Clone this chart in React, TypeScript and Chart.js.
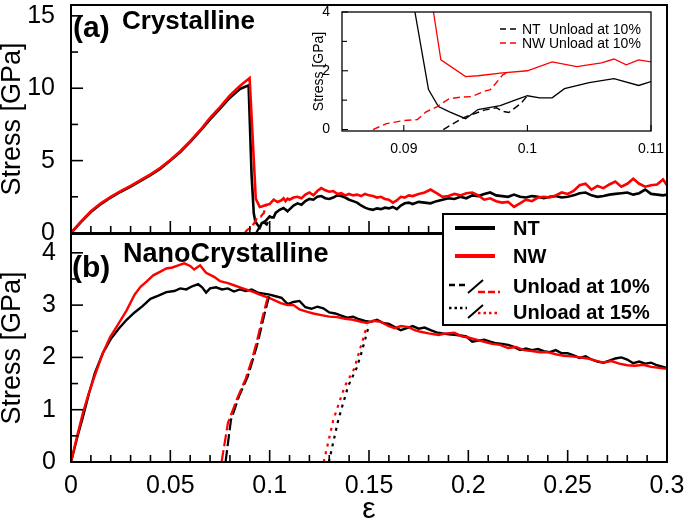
import React, { useEffect, useRef } from 'react';
import { Chart, registerables } from 'chart.js';

Chart.register(...registerables);
Chart.defaults.font.family = "'Liberation Sans', Arial, sans-serif";
Chart.defaults.color = '#000';

type P = [number, number];

// ---------- (a) Crystalline : strain, stress [GPa] ----------
const crystNT: P[] = [
  [0, 0], [0.005, 0.75], [0.01, 1.45], [0.015, 2.0], [0.02, 2.45], [0.025, 2.85], [0.03, 3.2],
  [0.035, 3.6], [0.04, 4.0], [0.045, 4.45], [0.05, 5.0], [0.055, 5.6], [0.06, 6.3], [0.065, 7.05],
  [0.07, 7.85], [0.075, 8.6], [0.08, 9.35], [0.085, 9.95], [0.0894, 10.2], [0.0909, 4.0],
  [0.092, 1.36], [0.0928, 0.78], [0.0937, 0.6], [0.095, 0.37], [0.096, 0.68], [0.0978, 0.81],
  [0.099, 1.0], [0.1, 1.15], [0.101, 1.08], [0.102, 1.08], [0.103, 1.39], [0.105, 1.6],
  [0.107, 1.73], [0.109, 1.5], [0.11, 1.63], [0.112, 1.9], [0.114, 2.05], [0.116, 1.95],
  [0.118, 2.2], [0.12, 2.35], [0.122, 2.3], [0.124, 2.5], [0.126, 2.55], [0.128, 2.4],
  [0.13, 2.35], [0.132, 2.45], [0.134, 2.6], [0.136, 2.55], [0.138, 2.45], [0.14, 2.3],
  [0.142, 2.2], [0.144, 2.1], [0.146, 1.9], [0.148, 1.75], [0.15, 1.65], [0.152, 1.6],
  [0.154, 1.7], [0.156, 1.65], [0.158, 1.75], [0.16, 1.7], [0.162, 1.8], [0.164, 1.65],
  [0.166, 1.9], [0.168, 2.05], [0.17, 2.1], [0.172, 2.0], [0.175, 2.15], [0.178, 2.1],
  [0.181, 2.05], [0.184, 2.2], [0.187, 2.3], [0.19, 2.4], [0.193, 2.35], [0.196, 2.5],
  [0.199, 2.4], [0.202, 2.6], [0.205, 2.55], [0.208, 2.7], [0.211, 2.8], [0.214, 2.6],
  [0.217, 2.55], [0.22, 2.5], [0.223, 2.65], [0.226, 2.5], [0.229, 2.45], [0.232, 2.55],
  [0.235, 2.5], [0.238, 2.4], [0.241, 2.5], [0.244, 2.55], [0.247, 2.45], [0.25, 2.5],
  [0.253, 2.6], [0.256, 2.75], [0.259, 2.8], [0.262, 2.6], [0.265, 2.5], [0.268, 2.55],
  [0.271, 2.65], [0.274, 2.7], [0.277, 2.75], [0.28, 2.8], [0.283, 2.65], [0.286, 2.75],
  [0.289, 3.0], [0.292, 2.7], [0.295, 2.65], [0.298, 2.6], [0.3, 2.65],
];

const crystNW: P[] = [
  [0, 0], [0.005, 0.78], [0.01, 1.5], [0.015, 2.05], [0.02, 2.5], [0.025, 2.9], [0.03, 3.25],
  [0.035, 3.65], [0.04, 4.05], [0.045, 4.5], [0.05, 5.05], [0.055, 5.65], [0.06, 6.35], [0.065, 7.1],
  [0.07, 7.95], [0.075, 8.7], [0.08, 9.5], [0.085, 10.15], [0.0899, 10.7], [0.0924, 4.0],
  [0.093, 2.37], [0.095, 1.8], [0.096, 1.83], [0.098, 1.93], [0.1, 2.0], [0.102, 2.3],
  [0.104, 2.14], [0.106, 2.27], [0.107, 2.4], [0.108, 2.2], [0.109, 2.37], [0.11, 2.3],
  [0.112, 2.45], [0.114, 2.5], [0.116, 2.4], [0.118, 2.65], [0.12, 2.8], [0.122, 2.6],
  [0.124, 2.9], [0.126, 3.1], [0.128, 2.95], [0.13, 2.85], [0.132, 2.9], [0.134, 2.7],
  [0.136, 2.75], [0.138, 2.6], [0.14, 2.7], [0.142, 2.6], [0.144, 2.65], [0.146, 2.55],
  [0.148, 2.7], [0.15, 2.6], [0.152, 2.55], [0.154, 2.45], [0.156, 2.5], [0.158, 2.35],
  [0.16, 2.3], [0.162, 2.1], [0.164, 2.25], [0.166, 2.5], [0.168, 2.45], [0.17, 2.6],
  [0.172, 2.55], [0.175, 2.7], [0.178, 2.8], [0.181, 3.0], [0.184, 2.75], [0.187, 2.5],
  [0.19, 2.55], [0.193, 2.7], [0.196, 2.6], [0.199, 2.75], [0.202, 2.8], [0.205, 2.6],
  [0.208, 2.3], [0.211, 2.4], [0.214, 2.2], [0.217, 2.1], [0.22, 2.15], [0.223, 1.8],
  [0.226, 2.05], [0.229, 2.3], [0.232, 2.2], [0.235, 2.45], [0.238, 2.5], [0.241, 2.45],
  [0.244, 2.6], [0.247, 2.8], [0.25, 2.7], [0.253, 2.9], [0.256, 3.3], [0.259, 3.4],
  [0.262, 3.0], [0.265, 3.25], [0.268, 3.1], [0.271, 3.35], [0.274, 3.55], [0.277, 3.2],
  [0.28, 3.4], [0.283, 3.75], [0.286, 3.4], [0.289, 3.2], [0.292, 3.3], [0.295, 3.35],
  [0.298, 3.7], [0.3, 3.3],
];

const crystNTUnload10: P[] = [
  [0.0932, 0], [0.0948, 0.4], [0.0965, 0.66], [0.0975, 0.74], [0.098, 0.62], [0.0985, 0.58],
  [0.0995, 0.9], [0.1, 1.15],
];

const crystNWUnload10: P[] = [
  [0.0875, 0], [0.0886, 0.2], [0.0899, 0.3], [0.0911, 0.34], [0.0918, 0.6], [0.0927, 0.78],
  [0.0933, 0.95], [0.0937, 1.05], [0.0946, 1.1], [0.0955, 1.12], [0.0965, 1.3], [0.097, 1.36],
  [0.0975, 1.6], [0.098, 1.86], [0.0985, 1.97],
];

// ---------- (b) NanoCrystalline ----------
const nanoNT: P[] = [
  [0, 0], [0.003, 0.45], [0.006, 0.86], [0.009, 1.3], [0.012, 1.7], [0.016, 2.08], [0.02, 2.35],
  [0.024, 2.55], [0.028, 2.72], [0.032, 2.86], [0.036, 2.98], [0.04, 3.12], [0.044, 3.18],
  [0.048, 3.25], [0.052, 3.27], [0.055, 3.32], [0.058, 3.3], [0.061, 3.36], [0.064, 3.4],
  [0.066, 3.34], [0.068, 3.24], [0.07, 3.32], [0.073, 3.34], [0.076, 3.3], [0.079, 3.32],
  [0.082, 3.26], [0.085, 3.3], [0.088, 3.27], [0.091, 3.3], [0.094, 3.24], [0.097, 3.22],
  [0.1, 3.2], [0.103, 3.17], [0.106, 3.14], [0.109, 3.02], [0.112, 3.06], [0.115, 3.08],
  [0.118, 2.96], [0.121, 2.93], [0.124, 2.97], [0.127, 2.94], [0.13, 2.86], [0.133, 2.84],
  [0.136, 2.8], [0.139, 2.76], [0.142, 2.78], [0.145, 2.73], [0.148, 2.7], [0.151, 2.68],
  [0.154, 2.72], [0.157, 2.66], [0.16, 2.64], [0.163, 2.58], [0.166, 2.52], [0.169, 2.56],
  [0.172, 2.6], [0.175, 2.55], [0.178, 2.57], [0.181, 2.52], [0.184, 2.48], [0.187, 2.46],
  [0.19, 2.44], [0.193, 2.43], [0.196, 2.42], [0.199, 2.4], [0.202, 2.3], [0.205, 2.32],
  [0.208, 2.34], [0.211, 2.3], [0.214, 2.27], [0.217, 2.26], [0.22, 2.24], [0.223, 2.2],
  [0.226, 2.14], [0.229, 2.17], [0.232, 2.14], [0.235, 2.16], [0.238, 2.12], [0.241, 2.1],
  [0.244, 2.14], [0.247, 2.08], [0.25, 2.08], [0.253, 2.04], [0.256, 1.99], [0.259, 2.02],
  [0.262, 1.96], [0.265, 1.92], [0.268, 1.9], [0.271, 1.94], [0.274, 1.98], [0.277, 2.0],
  [0.28, 1.96], [0.283, 1.89], [0.286, 1.92], [0.289, 1.88], [0.292, 1.9], [0.295, 1.85],
  [0.298, 1.82], [0.3, 1.8],
];

const nanoNW: P[] = [
  [0, 0], [0.003, 0.48], [0.006, 0.94], [0.009, 1.32], [0.013, 1.76], [0.016, 2.08], [0.0197, 2.39],
  [0.024, 2.65], [0.028, 2.9], [0.032, 3.2], [0.035, 3.35], [0.038, 3.45], [0.0414, 3.57],
  [0.045, 3.64], [0.048, 3.7], [0.051, 3.72], [0.054, 3.76], [0.057, 3.8], [0.06, 3.75],
  [0.062, 3.68], [0.065, 3.76], [0.068, 3.62], [0.072, 3.54], [0.075, 3.46], [0.079, 3.42],
  [0.082, 3.38], [0.085, 3.34], [0.088, 3.3], [0.092, 3.25], [0.095, 3.2], [0.099, 3.15],
  [0.102, 3.1], [0.1056, 3.04], [0.109, 3.0], [0.112, 3.0], [0.115, 2.92], [0.119, 2.87],
  [0.122, 2.84], [0.126, 2.81], [0.13, 2.78], [0.134, 2.77], [0.138, 2.74], [0.142, 2.72],
  [0.146, 2.68], [0.149, 2.66], [0.152, 2.7], [0.156, 2.68], [0.16, 2.6], [0.163, 2.56],
  [0.166, 2.6], [0.17, 2.58], [0.173, 2.52], [0.176, 2.49], [0.18, 2.46], [0.185, 2.43],
  [0.189, 2.46], [0.193, 2.47], [0.197, 2.4], [0.2, 2.38], [0.204, 2.34], [0.208, 2.3],
  [0.212, 2.26], [0.216, 2.24], [0.22, 2.18], [0.224, 2.2], [0.228, 2.14], [0.232, 2.12],
  [0.236, 2.1], [0.24, 2.1], [0.244, 2.06], [0.248, 2.03], [0.252, 2.02], [0.256, 2.0],
  [0.26, 1.98], [0.264, 1.94], [0.268, 1.9], [0.272, 1.93], [0.276, 1.88], [0.28, 1.85],
  [0.284, 1.84], [0.288, 1.86], [0.292, 1.82], [0.296, 1.8], [0.3, 1.78],
];

const nanoNTUnload10: P[] = [
  [0.0778, 0], [0.0805, 0.8], [0.0845, 1.25], [0.0889, 1.63], [0.0915, 1.95], [0.094, 2.28],
  [0.097, 2.77], [0.0995, 3.14], [0.1, 3.2],
];
const nanoNWUnload10: P[] = [
  [0.0758, 0], [0.079, 0.75], [0.0835, 1.2], [0.088, 1.6], [0.091, 1.95], [0.0935, 2.3],
  [0.0965, 2.78], [0.099, 3.15], [0.0995, 3.22],
];
const nanoNTUnload15: P[] = [
  [0.1298, 0], [0.1345, 0.8], [0.1395, 1.45], [0.1438, 1.8], [0.1463, 2.1], [0.1488, 2.45],
  [0.15, 2.62],
];
const nanoNWUnload15: P[] = [
  [0.1272, 0], [0.132, 0.8], [0.1378, 1.45], [0.1425, 1.78], [0.145, 2.1], [0.1478, 2.45],
  [0.149, 2.62],
];

// ---------- axes ----------
const X_RANGE = [0, 0.3];
const A_Y_RANGE = [0, 15.75];
const B_Y_RANGE = [0, 4.36];
const INSET_X_RANGE = [0.085, 0.11];
const INSET_Y_RANGE = [-0.05, 4];

const xMajorTicks = [0, 0.05, 0.1, 0.15, 0.2, 0.25, 0.3];
const aYMajorTicks = [0, 5, 10, 15];
const aYMinorTicks = [2.5, 7.5, 12.5];
const bYMajorTicks = [0, 1, 2, 3, 4];
const bYMinorTicks = [0.5, 1.5, 2.5, 3.5];
const insetXMajorTicks = [0.09, 0.1, 0.11];
const insetYMajorTicks = [0, 2, 4];
const insetYMinorTicks = [1, 3];

const xMinorTicks: number[] = [];
for (let i = 1; i < 30; i++) if (i % 5 !== 0) xMinorTicks.push(i / 100);

const BLACK = '#000000';
const RED = '#ff0000';

const fmt = (v: number) => String(+Number(v).toFixed(4));

const framePlugin = {
  id: 'frame',
  afterDatasetsDraw(chart: any, _args: any, opts: any) {
    const { ctx, chartArea: a } = chart;
    ctx.save();
    ctx.strokeStyle = '#000';
    ctx.lineWidth = opts.tickWidth;
    for (const t of opts.ticks || []) {
      const s = chart.scales[t.axis];
      const draw = (vals: number[], len: number) => {
        for (const v of vals) {
          const p = s.getPixelForValue(v);
          ctx.beginPath();
          if (s.isHorizontal()) {
            ctx.moveTo(p, a.bottom);
            ctx.lineTo(p, a.bottom - len);
          } else {
            ctx.moveTo(a.left, p);
            ctx.lineTo(a.left + len, p);
          }
          ctx.stroke();
        }
      };
      draw(t.major || [], t.majorLen);
      draw(t.minor || [], t.minorLen);
    }
    ctx.lineWidth = opts.lineWidth;
    ctx.strokeRect(a.left, a.top, a.right - a.left, a.bottom - a.top);
    ctx.restore();
  },
};

function ds(data: P[], color: string, width: number, dash: number[], order: number) {
  return {
    data: data.map(([x, y]) => ({ x, y })),
    borderColor: color,
    backgroundColor: color,
    borderWidth: width,
    borderDash: dash,
    pointRadius: 0,
    tension: 0,
    fill: false,
    order,
  };
}

function fixWidth(w: number) {
  return (s: any) => {
    s.width = w;
    s.paddingTop = 0;
    s.paddingBottom = 0;
    s.paddingLeft = 0;
    s.paddingRight = 0;
  };
}
function fixHeight(h: number) {
  return (s: any) => {
    s.height = h;
    s.paddingTop = 0;
    s.paddingBottom = 0;
    s.paddingLeft = 0;
    s.paddingRight = 0;
  };
}

const baseOpts = {
  animation: false,
  responsive: false,
  maintainAspectRatio: false,
  events: [],
  parsing: true,
};

function topConfig(): any {
  return {
    type: 'line',
    data: {
      datasets: [
        ds(crystNT, BLACK, 2.6, [], 4),
        ds(crystNW, RED, 2.6, [], 3),
        ds(crystNTUnload10, BLACK, 2.2, [8, 4], 2),
        ds(crystNWUnload10, RED, 2.2, [8, 4], 1),
      ],
    },
    options: {
      ...baseOpts,
      layout: { padding: { top: 5, right: 18, bottom: 17, left: 0 } },
      plugins: {
        legend: { display: false },
        tooltip: { enabled: false },
        frame: {
          lineWidth: 2,
          tickWidth: 1.6,
          ticks: [
            { axis: 'x', major: xMajorTicks, minor: xMinorTicks, majorLen: 12, minorLen: 7 },
            { axis: 'y', major: aYMajorTicks, minor: aYMinorTicks, majorLen: 12, minorLen: 7 },
          ],
        },
      },
      scales: {
        x: { type: 'linear', min: X_RANGE[0], max: X_RANGE[1], display: false },
        y: {
          type: 'linear',
          min: A_Y_RANGE[0],
          max: A_Y_RANGE[1],
          afterFit: fixWidth(71),
          grid: { display: false },
          border: { display: false },
          ticks: { stepSize: 5, includeBounds: false, autoSkip: false, padding: 8, font: { size: 25 }, color: '#000', callback: fmt },
          title: { display: true, text: 'Stress [GPa]', font: { size: 27, lineHeight: 0.95 }, color: '#000', padding: 0 },
        },
      },
    },
    plugins: [framePlugin],
  };
}

function bottomConfig(): any {
  return {
    type: 'line',
    data: {
      datasets: [
        ds(nanoNT, BLACK, 2.4, [], 6),
        ds(nanoNW, RED, 2.4, [], 5),
        ds(nanoNTUnload10, BLACK, 2.2, [12, 4], 4),
        ds(nanoNWUnload10, RED, 2.2, [12, 4], 3),
        ds(nanoNTUnload15, BLACK, 2.2, [3, 5], 2),
        ds(nanoNWUnload15, RED, 2.2, [3, 5], 1),
      ],
    },
    options: {
      ...baseOpts,
      layout: { padding: { top: 9, right: 18, bottom: 0, left: 0 } },
      plugins: {
        legend: { display: false },
        tooltip: { enabled: false },
        frame: {
          lineWidth: 2,
          tickWidth: 1.6,
          ticks: [
            { axis: 'x', major: xMajorTicks, minor: xMinorTicks, majorLen: 12, minorLen: 7 },
            { axis: 'y', major: bYMajorTicks, minor: bYMinorTicks, majorLen: 12, minorLen: 7 },
          ],
        },
      },
      scales: {
        x: {
          type: 'linear',
          min: X_RANGE[0],
          max: X_RANGE[1],
          afterFit: fixHeight(60),
          grid: { display: false },
          border: { display: false },
          ticks: { stepSize: 0.05, includeBounds: false, autoSkip: false, maxRotation: 0, padding: 1, font: { size: 25 }, color: '#000', callback: fmt },
          title: { display: true, text: 'ε', font: { size: 30, lineHeight: 0.85 }, color: '#000', padding: 0 },
        },
        y: {
          type: 'linear',
          min: B_Y_RANGE[0],
          max: B_Y_RANGE[1],
          afterFit: fixWidth(71),
          grid: { display: false },
          border: { display: false },
          ticks: { stepSize: 1, includeBounds: false, autoSkip: false, padding: 7, font: { size: 25 }, color: '#000', callback: fmt },
          title: { display: true, text: 'Stress [GPa]', font: { size: 27, lineHeight: 0.95 }, color: '#000', padding: 0 },
        },
      },
    },
    plugins: [framePlugin],
  };
}

function insetConfig(): any {
  return {
    type: 'line',
    data: {
      datasets: [
        ds(crystNT, BLACK, 1.3, [], 4),
        ds(crystNW, RED, 1.3, [], 3),
        ds(crystNTUnload10, BLACK, 1.4, [7, 4], 2),
        ds(crystNWUnload10, RED, 1.4, [7, 4], 1),
      ],
    },
    options: {
      ...baseOpts,
      layout: { padding: { top: 12, right: 24, bottom: 0, left: 0 } },
      plugins: {
        legend: { display: false },
        tooltip: { enabled: false },
        frame: {
          lineWidth: 1.3,
          tickWidth: 1.1,
          ticks: [
            { axis: 'x', major: insetXMajorTicks, minor: [], majorLen: 6, minorLen: 0 },
            { axis: 'y', major: insetYMajorTicks, minor: insetYMinorTicks, majorLen: 6, minorLen: 5 },
          ],
        },
      },
      scales: {
        x: {
          type: 'linear',
          min: INSET_X_RANGE[0],
          max: INSET_X_RANGE[1],
          afterFit: fixHeight(29),
          grid: { display: false },
          border: { display: false },
          ticks: { stepSize: 0.01, includeBounds: false, autoSkip: false, maxRotation: 0, padding: 2, font: { size: 14 }, color: '#000', callback: fmt },
        },
        y: {
          type: 'linear',
          min: INSET_Y_RANGE[0],
          max: INSET_Y_RANGE[1],
          afterFit: fixWidth(42),
          grid: { display: false },
          border: { display: false },
          ticks: { stepSize: 2, includeBounds: false, autoSkip: false, padding: 4, font: { size: 14 }, color: '#000', callback: fmt },
          title: { display: true, text: 'Stress [GPa]', font: { size: 14, lineHeight: 1.2 }, color: '#000', padding: { top: 10.6, bottom: 0 } },
        },
      },
    },
    plugins: [framePlugin],
  };
}

export default function App() {
  const topRef = useRef<HTMLCanvasElement>(null);
  const botRef = useRef<HTMLCanvasElement>(null);
  const insRef = useRef<HTMLCanvasElement>(null);

  useEffect(() => {
    const charts = [
      new Chart(topRef.current as HTMLCanvasElement, topConfig()),
      new Chart(botRef.current as HTMLCanvasElement, bottomConfig()),
      new Chart(insRef.current as HTMLCanvasElement, insetConfig()),
    ];
    return () => charts.forEach((c) => c.destroy());
  }, []);

  const font = "'Liberation Sans', Arial, sans-serif";

  return (
    <div style={{ position: 'fixed', left: 0, top: 0, width: 685, height: 522, background: '#fff', overflow: 'hidden' }}>
      <canvas ref={topRef} width={685} height={250} style={{ position: 'absolute', left: 0, top: 0 }} />
      <canvas ref={botRef} width={685} height={297} style={{ position: 'absolute', left: 0, top: 225 }} />
      <canvas ref={insRef} width={375} height={160} style={{ position: 'absolute', left: 300, top: 0 }} />
      <svg width={685} height={522} style={{ position: 'absolute', left: 0, top: 0, pointerEvents: 'none' }} fontFamily={font}>
        <text x={73} y={37} fontSize={30} fontWeight="bold">(a)</text>
        <text x={122} y={29} fontSize={26} fontWeight="bold">Crystalline</text>
        <text x={72} y={277} fontSize={30} fontWeight="bold">(b)</text>
        <text x={123} y={262} fontSize={27} fontWeight="bold">NanoCrystalline</text>

        {/* inset legend */}
        <line x1={500} y1={29} x2={518} y2={29} stroke={BLACK} strokeWidth={1.4} strokeDasharray="6 4" />
        <text x={522} y={34} fontSize={14}>NT</text>
        <text x={549} y={34} fontSize={14}>Unload at 10%</text>
        <line x1={500} y1={43} x2={518} y2={43} stroke={RED} strokeWidth={1.4} strokeDasharray="6 4" />
        <text x={522} y={48} fontSize={14}>NW</text>
        <text x={549} y={48} fontSize={14}>Unload at 10%</text>

        {/* main legend */}
        <rect x={443} y={214} width={224} height={111} fill="#fff" stroke={BLACK} strokeWidth={2} />
        <line x1={455} y1={228} x2={495} y2={228} stroke={BLACK} strokeWidth={4} />
        <text x={513} y={235} fontSize={20} fontWeight="bold">NT</text>
        <line x1={455} y1={256} x2={495} y2={256} stroke={RED} strokeWidth={4} />
        <text x={513} y={263} fontSize={20} fontWeight="bold">NW</text>
        <line x1={449} y1={285} x2={467} y2={285} stroke={BLACK} strokeWidth={2.5} strokeDasharray="6 4" />
        <line x1={468} y1={293} x2={483} y2={280} stroke={BLACK} strokeWidth={2} />
        <line x1={478} y1={292} x2={500} y2={292} stroke={RED} strokeWidth={2.5} strokeDasharray="7 3" />
        <text x={513} y={293} fontSize={20} fontWeight="bold">Unload at 10%</text>
        <line x1={449} y1={308} x2={467} y2={308} stroke={BLACK} strokeWidth={2.5} strokeDasharray="2.5 3" />
        <line x1={468} y1={318} x2={483} y2={305} stroke={BLACK} strokeWidth={2} />
        <line x1={478} y1={313} x2={500} y2={313} stroke={RED} strokeWidth={2.5} strokeDasharray="2.5 3" />
        <text x={513} y={319} fontSize={20} fontWeight="bold">Unload at 15%</text>
      </svg>
    </div>
  );
}
